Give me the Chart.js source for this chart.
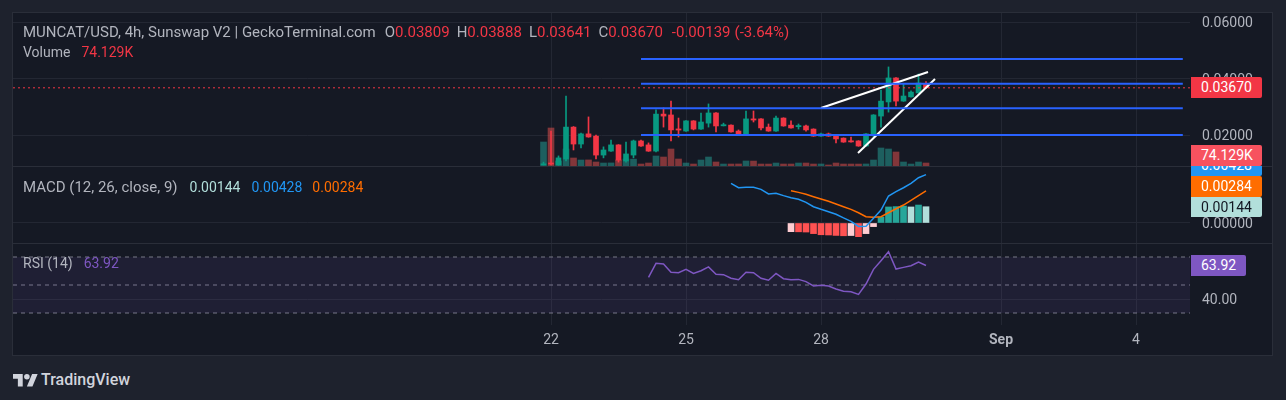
<!DOCTYPE html>
<html>
<head>
<meta charset="utf-8">
<script src="https://cdn.jsdelivr.net/npm/chart.js@4.4.0/dist/chart.umd.min.js"></script>
<style>
  body { margin: 0; width: 1286px; height: 400px; overflow: hidden; background: #1e222d; font-family: Roboto, sans-serif; }
  #frame { position: absolute; left: 12px; top: 12px; width: 1261px; height: 344px; box-sizing: border-box; background: #151924; border: 1px solid #2a2e39; }
  canvas { position: absolute; left: 13px; }
  .lbl { position: absolute; left: 23px; font-size: 14px; line-height: 18px; color: #b2b5be; white-space: pre; }
  .lbl span { margin-left: 7px; }
  .red { color: #f23645; }
  .sep { position: absolute; left: 13px; width: 1259px; height: 1px; background: #2a2e39; }
  .tag { position: absolute; left: 1191px; width: 61px; height: 21px; line-height: 21px; padding-left: 10px; font-size: 14px; color: #fff; border-radius: 0 2px 2px 0; }
  #macdAxis { position: absolute; left: 0; top: 166px; width: 1272px; height: 77px; overflow: hidden; }
  #logo { position: absolute; left: 13px; top: 370px; display: flex; align-items: center; color: #d1d4dc; font-size: 16px; font-weight: 500; }
</style>
</head>
<body>
<div id="frame"></div>
<canvas id="mainChart" width="1259" height="153" style="top:13px"></canvas>
<canvas id="macdChart" width="1259" height="77" style="top:166px"></canvas>
<canvas id="rsiChart" width="1259" height="113" style="top:243px"></canvas>
<div class="sep" style="top:166px"></div>
<div class="sep" style="top:243px"></div>

<div class="lbl" style="top:23px;font-size:15px">MUNCAT/USD, 4h, Sunswap V2 | GeckoTerminal.com<span style="margin-left:9px">O<b class="red" style="font-weight:400">0.03809</b></span><span>H<b class="red" style="font-weight:400">0.03888</b></span><span>L<b class="red" style="font-weight:400">0.03641</b></span><span>C<b class="red" style="font-weight:400">0.03670</b></span><span class="red" style="margin-left:9px">-0.00139</span><span class="red" style="margin-left:4px">(-3.64%)</span></div>
<div class="lbl" style="top:43px">Volume<span class="red" style="margin-left:11px">74.129K</span></div>
<div class="lbl" style="top:178px"><b style="font-weight:400;font-size:15px">MACD (12, 26, close, 9)</b><span style="color:#b2dfdb;margin-left:12px">0.00144</span><span style="color:#2196f3;margin-left:11px">0.00428</span><span style="color:#ff6d00;margin-left:10px">0.00284</span></div>
<div class="lbl" style="top:254px">RSI (14)<span style="color:#7e57c2;margin-left:11px">63.92</span></div>

<div class="tag" style="top:77px;background:#f23645">0.03670</div>
<div class="tag" style="top:145px;background:#f7525f">74.129K</div>
<div id="macdAxis">
  <div class="tag" style="top:-11px;background:#2196f3">0.00428</div>
  <div class="tag" style="top:10px;background:#ff6d00">0.00284</div>
  <div class="tag" style="top:31px;height:20px;line-height:20px;background:#b2dfdb;color:#131722">0.00144</div>
</div>
<div class="tag" style="top:255px;width:45px;background:#7e57c2">63.92</div>

<div id="logo">
  <svg width="25" height="17" viewBox="0 0 36 24"><path fill="#d1d4dc" d="M14 22H7V11H0V4h14v18zM28 22h-8l7.5-18h8L28 22z"/><circle fill="#d1d4dc" cx="20" cy="8" r="4"/></svg>
  <span style="margin-left:3px">TradingView</span>
</div>

<script>
// 4h candles, x measured in days after Aug 22 00:00
const opens = [0.0095, 0.0101, 0.0094, 0.0115, 0.0228, 0.0168, 0.0204, 0.0196, 0.0129, 0.0143, 0.0165, 0.0108, 0.0129,
  0.0179, 0.0165, 0.0143, 0.0274, 0.0271, 0.0221, 0.0214, 0.0250, 0.0221, 0.0242, 0.0278, 0.0234, 0.0235, 0.0214,
  0.0204, 0.0257, 0.0257, 0.0228, 0.0214, 0.0260, 0.0235, 0.0231, 0.0232, 0.0221, 0.0196, 0.0204, 0.0196, 0.0189,
  0.0179, 0.0179, 0.0161, 0.0200, 0.0267, 0.0317, 0.0402, 0.0320, 0.0335, 0.0349, 0.03809];
const highs = [0.0104, 0.0214, 0.0126, 0.0338, 0.0230, 0.0207, 0.0264, 0.0200, 0.0158, 0.0182, 0.0166, 0.0175, 0.0182,
  0.0182, 0.0172, 0.0289, 0.0296, 0.0320, 0.0260, 0.0251, 0.0251, 0.0278, 0.0310, 0.0279, 0.0242, 0.0236, 0.0218,
  0.0285, 0.0285, 0.0258, 0.0239, 0.0267, 0.0261, 0.0250, 0.0239, 0.0235, 0.0222, 0.0207, 0.0207, 0.0197, 0.0190,
  0.0193, 0.0180, 0.0205, 0.0272, 0.0359, 0.0441, 0.0403, 0.0381, 0.0356, 0.0416, 0.03888];
const lows = [0.0094, 0.0094, 0.0093, 0.0108, 0.0147, 0.0154, 0.0192, 0.0115, 0.0119, 0.0142, 0.0104, 0.0104, 0.0119,
  0.0160, 0.0142, 0.0140, 0.0228, 0.0179, 0.0193, 0.0213, 0.0218, 0.0220, 0.0228, 0.0211, 0.0232, 0.0210, 0.0203,
  0.0203, 0.0246, 0.0218, 0.0213, 0.0213, 0.0231, 0.0224, 0.0221, 0.0214, 0.0195, 0.0195, 0.0195, 0.0172, 0.0174,
  0.0175, 0.0160, 0.0160, 0.0193, 0.0228, 0.0281, 0.0303, 0.0319, 0.0334, 0.0348, 0.03641];
const closes = [0.0097, 0.0097, 0.0119, 0.0228, 0.0168, 0.0204, 0.0193, 0.0129, 0.0147, 0.0165, 0.0111, 0.0133, 0.0179,
  0.0161, 0.0143, 0.0274, 0.0267, 0.0218, 0.0218, 0.0250, 0.0221, 0.0246, 0.0278, 0.0232, 0.0235, 0.0211, 0.0204,
  0.0257, 0.0253, 0.0225, 0.0214, 0.0260, 0.0232, 0.0225, 0.0232, 0.0218, 0.0196, 0.0204, 0.0196, 0.0186, 0.0175,
  0.0176, 0.0161, 0.0204, 0.0271, 0.0320, 0.0402, 0.0320, 0.0338, 0.0352, 0.0384, 0.03670];
// volume in thousands
const volumes = [593, 939, 124, 420, 198, 148, 150, 99, 74, 76, 148, 173, 170, 49, 74, 247, 222, 420, 173, 74, 49, 148,
  222, 99, 49, 49, 50, 124, 122, 49, 48, 74, 49, 49, 74, 74, 49, 50, 25, 74, 49, 49, 48, 50, 148, 445, 420, 346, 99,
  49, 99, 74.129];

// MACD series (x 0.001), MACD line from candle 25, signal and histogram from candle 33
const macdLine = [3.51, 3.12, 3.16, 3.16, 2.98, 2.57, 2.63, 2.42, 2.24, 2.10, 1.83, 1.44, 1.21, 1.00, 0.77, 0.45,
  0.15, -0.30, -0.28, 0.42, 1.15, 2.39, 2.77, 3.12, 3.51, 4.01, 4.28];
const signalLine = [2.86, 2.71, 2.54, 2.33, 2.12, 1.92, 1.68, 1.44, 1.21, 0.91, 0.56, 0.50, 0.56, 0.91, 1.26, 1.59,
  2.00, 2.42, 2.84];
const histogram = [-0.77, -0.78, -0.80, -0.94, -1.04, -1.06, -1.10, -1.13, -1.11, -1.21, -0.94, -0.32, 0.53, 1.42,
  1.45, 1.50, 1.42, 1.59, 1.44];

// RSI(14) from candle 14
const rsiValues = [55.5, 65.5, 65.0, 59.1, 58.8, 61.2, 58.3, 60.2, 62.9, 57.6, 57.4, 54.8, 53.8, 59.1, 58.8, 54.8,
  53.4, 58.3, 54.5, 53.8, 54.0, 52.4, 49.3, 49.8, 49.3, 47.1, 45.5, 45.2, 43.3, 50.7, 61.2, 67.4, 73.8, 61.4, 62.6,
  63.8, 66.4, 63.92];

const dayTicks = [0, 3, 6, 10, 13];
const dayLabels = ['22', '25', '28', 'Sep', '4'];
const priceTicks = [0.02, 0.04, 0.06];
const macdTicks = [0];
const rsiTicks = [40];
const rsiBands = [70, 50, 30];

// drawings on the price pane
const hLevels = [0.0469, 0.03816, 0.02945, 0.0200];
const hLevelFrom = 2.0, hLevelTo = 14.04;
const trendUpper = [[6.0, 0.02956], [8.378, 0.0423]];
const trendLower = [[6.822, 0.01363], [8.533, 0.03982]];
const lastPrice = 0.03670;

const xMin = -11.956, xMax = 14.2;
const firstCandle = -1 / 6, candleStep = 1 / 6;
const xs = opens.map((_, i) => firstCandle + i * candleStep);

const green = '#089981', red = '#f23645';
const gridColor = '#232733';
const font = { family: 'Roboto', size: 14 };

function xScale(showLabels) {
  return {
    type: 'linear', min: xMin, max: xMax, offset: false,
    afterBuildTicks: s => { s.ticks = dayTicks.map(v => ({ value: v })); },
    afterFit: s => { s.height = showLabels ? 31 : 0; s.paddingLeft = 0; s.paddingRight = 0; },
    grid: { color: gridColor, drawTicks: false, offset: false },
    border: { display: false },
    ticks: {
      display: showLabels, color: '#b2b5be', padding: 7, maxRotation: 0, autoSkip: false,
      callback: v => dayLabels[dayTicks.indexOf(v)],
      font: c => ({ family: 'Roboto', size: 14, weight: c.tick && c.tick.value === 10 ? 'bold' : 'normal' })
    }
  };
}

function yScale(min, max, ticks, fmt) {
  return {
    position: 'right', min: min, max: max,
    afterBuildTicks: s => { s.ticks = ticks.map(v => ({ value: v })); },
    afterFit: s => { s.width = 82; s.paddingTop = 0; s.paddingBottom = 0; },
    grid: { color: gridColor, drawTicks: false },
    border: { display: false },
    ticks: { color: '#b2b5be', padding: 12, labelOffset: 1.5, font: font, callback: fmt }
  };
}

function segment(points, color, width, dash) {
  return {
    type: 'line', data: points.map(p => ({ x: p[0], y: p[1] })), borderColor: color, borderWidth: width,
    borderDash: dash || [], pointRadius: 0, order: 0, yAxisID: 'y'
  };
}

const baseOptions = {
  responsive: false, animation: false, events: [],
  layout: { padding: 0 },
  plugins: { legend: { display: false }, tooltip: { enabled: false } }
};

// price pane
const up = opens.map((o, i) => closes[i] >= o);
const bodies = opens.map((o, i) => {
  let lo = Math.min(o, closes[i]), hi = Math.max(o, closes[i]);
  if (hi - lo < 0.0004) { const m = (hi + lo) / 2; lo = m - 0.0002; hi = m + 0.0002; }
  return { x: xs[i], y: [lo, hi] };
});

new Chart(document.getElementById('mainChart'), {
  type: 'bar',
  data: {
    datasets: [
      ...hLevels.map(p => segment([[hLevelFrom, p], [hLevelTo, p]], '#2962ff', 2)),
      segment(trendUpper, '#ffffff', 2),
      segment(trendLower, '#ffffff', 2),
      segment([[xMin, lastPrice], [xMax, lastPrice]], red, 1, [2, 3]),
      { data: bodies, backgroundColor: up.map(u => u ? green : red), barThickness: 5, maxBarThickness: 5,
        grouped: false, order: 2, yAxisID: 'y' },
      { data: opens.map((o, i) => ({ x: xs[i], y: [lows[i], highs[i]] })), backgroundColor: up.map(u => u ? green : red),
        barThickness: 1, maxBarThickness: 1, grouped: false, order: 3, yAxisID: 'y' },
      { data: volumes.map((v, i) => ({ x: xs[i], y: v })),
        backgroundColor: up.map(u => u ? 'rgba(38,166,154,0.5)' : 'rgba(239,83,80,0.5)'),
        barThickness: 6, maxBarThickness: 6, grouped: false, order: 4, yAxisID: 'yv' }
    ]
  },
  options: {
    ...baseOptions,
    scales: {
      x: xScale(false),
      y: yScale(0.009027, 0.063186, priceTicks, v => v.toFixed(5)),
      yv: { display: false, min: 0, max: 3780 }
    }
  }
});

// MACD pane
const histColors = histogram.map((h, i) => {
  const prev = i > 0 ? histogram[i - 1] : -Infinity;
  if (h >= 0) return h > prev ? '#26a69a' : '#b2dfdb';
  return h > prev ? '#ffcdd2' : '#ff5252';
});

new Chart(document.getElementById('macdChart'), {
  type: 'bar',
  data: {
    datasets: [
      { type: 'line', data: macdLine.map((v, i) => ({ x: xs[25 + i], y: v / 1000 })), borderColor: '#2196f3',
        borderWidth: 1.5, pointRadius: 0, order: 0 },
      { type: 'line', data: signalLine.map((v, i) => ({ x: xs[33 + i], y: v / 1000 })), borderColor: '#ff6d00',
        borderWidth: 1.5, pointRadius: 0, order: 1 },
      { data: histogram.map((v, i) => ({ x: xs[33 + i], y: v / 1000 })), backgroundColor: histColors,
        barThickness: 6, maxBarThickness: 6, grouped: false, order: 2 }
    ]
  },
  options: {
    ...baseOptions,
    scales: {
      x: xScale(false),
      y: yScale(-0.00177, 0.005044, macdTicks, v => v.toFixed(5))
    }
  }
});

// RSI pane with the date axis
new Chart(document.getElementById('rsiChart'), {
  type: 'line',
  data: {
    datasets: [
      { data: rsiValues.map((v, i) => ({ x: xs[14 + i], y: v })), borderColor: '#7e57c2', borderWidth: 1.5,
        pointRadius: 0, order: 0 },
      ...rsiBands.map((b, i) => ({
        data: [{ x: xMin, y: b }, { x: xMax, y: b }], borderColor: '#787b86', borderWidth: 1, borderDash: [4, 4],
        pointRadius: 0, order: 1,
        fill: i === 0 ? { value: rsiBands[rsiBands.length - 1] } : false,
        backgroundColor: 'rgba(126,87,194,0.1)'
      }))
    ]
  },
  options: {
    ...baseOptions,
    scales: {
      x: xScale(true),
      y: yScale(21.43, 80, rsiTicks, v => v.toFixed(2))
    }
  }
});
</script>
</body>
</html>
